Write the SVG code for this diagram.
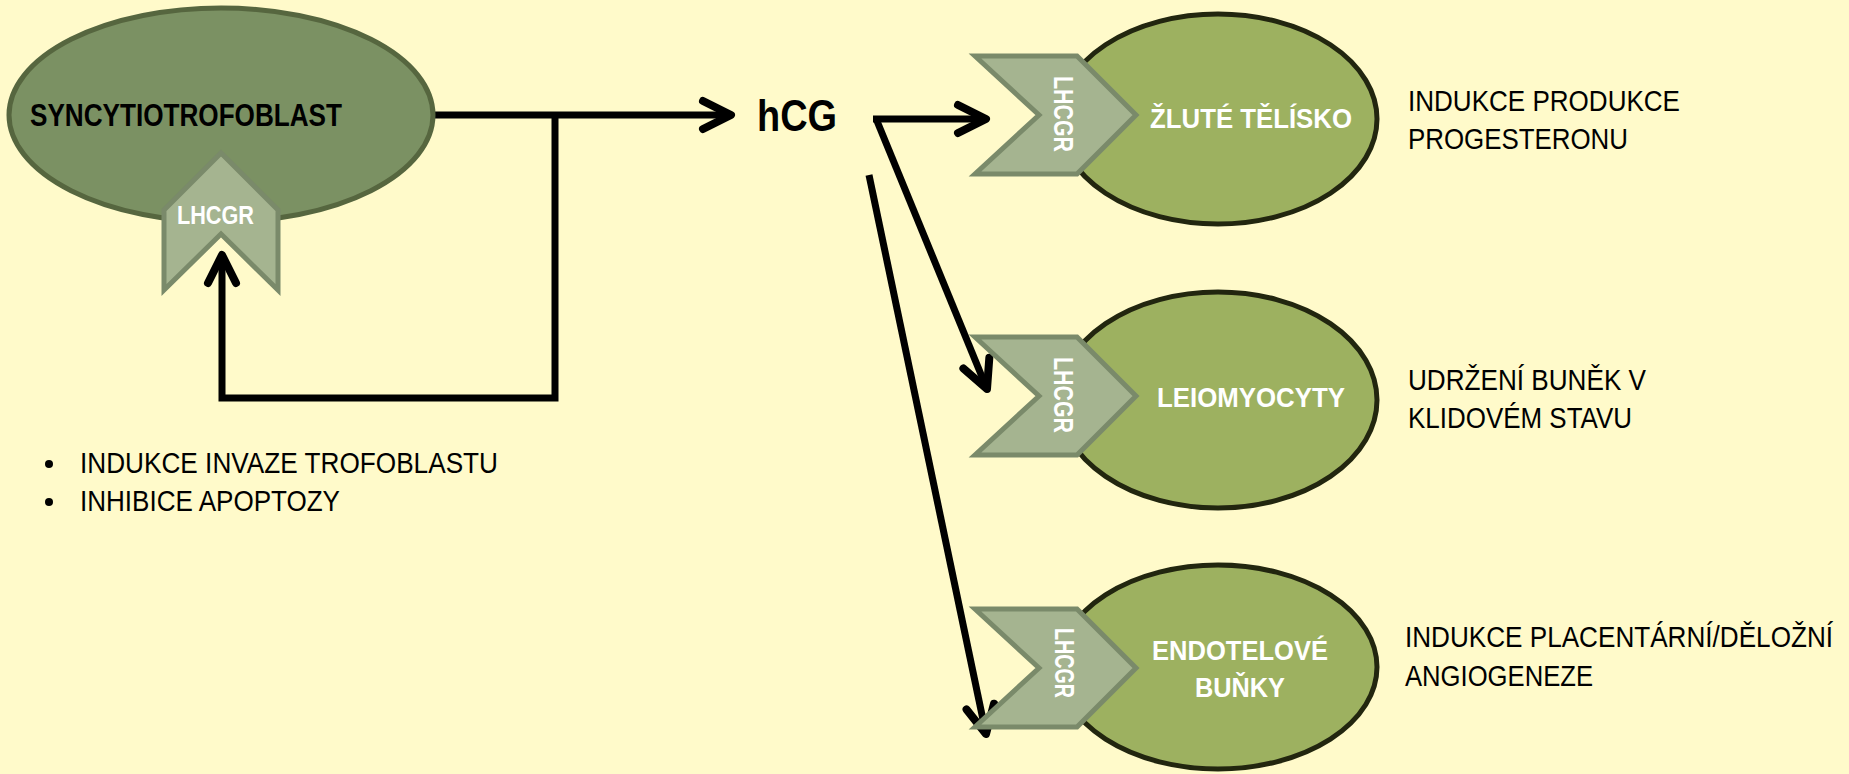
<svg xmlns="http://www.w3.org/2000/svg" width="1849" height="774" viewBox="0 0 1849 774">
<defs>
<style>
.bg{fill:#FFFACA}
.syn{fill:#7B9163;stroke:#56663F;stroke-width:5}
.cell{fill:#9DB160;stroke:#22260F;stroke-width:5}
.chev{fill:#A5B490;stroke:#7A8A6A;stroke-width:5;stroke-linejoin:miter}
.conn{fill:none;stroke:#000;stroke-width:7}
.bold{font-family:"Liberation Sans Narrow","Liberation Sans",Arial,sans-serif;font-weight:bold}
.reg{font-family:"Liberation Sans Narrow","Liberation Sans",Arial,sans-serif;font-size:29px;fill:#000}
.wt{fill:#fff}
</style>
<marker id="ah" markerUnits="userSpaceOnUse" viewBox="-40 -25 50 50" refX="0" refY="0" markerWidth="50" markerHeight="50" orient="auto" overflow="visible">
<path d="M-28,-14 L0,0 L-28,14" fill="none" stroke="#000" stroke-width="8" stroke-linecap="round" stroke-linejoin="round"/>
</marker>
<path id="chevR" d="M0,0 L102,0 L161,59 L102,118 L0,118 L64,59 Z"/>
</defs>
<rect class="bg" x="0" y="0" width="1849" height="774"/>

<g id="connectors">
<line class="conn" x1="435" y1="115" x2="731" y2="115" marker-end="url(#ah)"/>
<polyline class="conn" points="555,115 555,398 222,398 222,255" marker-end="url(#ah)"/>
<line class="conn" x1="873" y1="119" x2="986" y2="119" marker-end="url(#ah)"/>
<line class="conn" x1="877" y1="121" x2="987" y2="389" marker-end="url(#ah)"/>
<line class="conn" x1="869" y1="175" x2="986" y2="734" marker-end="url(#ah)"/>
</g>

<g id="syncytiotrofoblast">
<ellipse class="syn" cx="221" cy="115" rx="212" ry="107"/>
<text class="bold" x="30" y="126" font-size="32" textLength="312" lengthAdjust="spacingAndGlyphs">SYNCYTIOTROFOBLAST</text>
<path class="chev" d="M221,153 L278,210 L278,290 L221,234 L164,290 L164,210 Z"/>
<text class="bold wt" x="177" y="224" font-size="26" textLength="77" lengthAdjust="spacingAndGlyphs">LHCGR</text>
</g>

<g id="hcg">
<text class="bold" x="757" y="131" font-size="44" textLength="80" lengthAdjust="spacingAndGlyphs">hCG</text>
</g>

<g id="zlute-telisko">
<ellipse class="cell" cx="1218" cy="119" rx="159" ry="105"/>
<use href="#chevR" class="chev" x="975" y="56"/>
<text class="bold wt" transform="translate(1054,114) rotate(90)" text-anchor="middle" font-size="27" textLength="76" lengthAdjust="spacingAndGlyphs">LHCGR</text>
<text class="bold wt" x="1150" y="128" font-size="28" textLength="202" lengthAdjust="spacingAndGlyphs">ŽLUTÉ TĚLÍSKO</text>
</g>

<g id="leiomyocyty">
<ellipse class="cell" cx="1218" cy="400" rx="159" ry="108"/>
<use href="#chevR" class="chev" x="975" y="337"/>
<text class="bold wt" transform="translate(1054,395) rotate(90)" text-anchor="middle" font-size="27" textLength="76" lengthAdjust="spacingAndGlyphs">LHCGR</text>
<text class="bold wt" x="1157" y="407" font-size="28" textLength="188" lengthAdjust="spacingAndGlyphs">LEIOMYOCYTY</text>
</g>

<g id="endotelove-bunky">
<ellipse class="cell" cx="1218" cy="667" rx="159" ry="102"/>
<use href="#chevR" class="chev" x="975" y="609"/>
<text class="bold wt" transform="translate(1055,663) rotate(90)" text-anchor="middle" font-size="27" textLength="70" lengthAdjust="spacingAndGlyphs">LHCGR</text>
<text class="bold wt" x="1152" y="660" font-size="28" textLength="176" lengthAdjust="spacingAndGlyphs">ENDOTELOVÉ</text>
<text class="bold wt" x="1195" y="697" font-size="28" textLength="90" lengthAdjust="spacingAndGlyphs">BUŇKY</text>
</g>

<g id="effects">
<text class="reg" x="1408" y="111" textLength="272" lengthAdjust="spacingAndGlyphs">INDUKCE PRODUKCE</text>
<text class="reg" x="1408" y="149" textLength="220" lengthAdjust="spacingAndGlyphs">PROGESTERONU</text>
<text class="reg" x="1408" y="390" textLength="238" lengthAdjust="spacingAndGlyphs">UDRŽENÍ BUNĚK V</text>
<text class="reg" x="1408" y="428" textLength="224" lengthAdjust="spacingAndGlyphs">KLIDOVÉM STAVU</text>
<text class="reg" x="1405" y="647" textLength="428" lengthAdjust="spacingAndGlyphs">INDUKCE PLACENTÁRNÍ/DĚLOŽNÍ</text>
<text class="reg" x="1405" y="686" textLength="188" lengthAdjust="spacingAndGlyphs">ANGIOGENEZE</text>
<circle cx="49" cy="464" r="4" fill="#000"/>
<circle cx="49" cy="502" r="4" fill="#000"/>
<text class="reg" x="80" y="473" textLength="418" lengthAdjust="spacingAndGlyphs">INDUKCE INVAZE TROFOBLASTU</text>
<text class="reg" x="80" y="511" textLength="260" lengthAdjust="spacingAndGlyphs">INHIBICE APOPTOZY</text>
</g>
</svg>
